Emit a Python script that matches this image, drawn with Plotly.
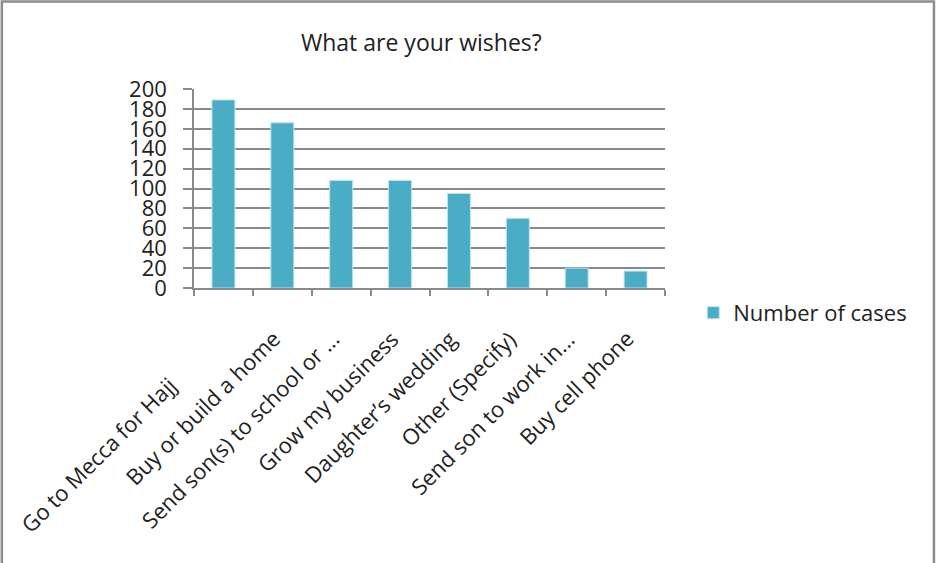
import plotly.graph_objects as go

# Survey responses: what people wish for
categories = [
    "Go to Mecca for Hajj",
    "Buy or build a home",
    "Send son(s) to school or ...",
    "Grow my business",
    "Daughter\u2019s wedding",
    "Other (Specify)",
    "Send son to work in...",
    "Buy cell phone",
]
cases = [189, 166, 108, 108, 95, 70, 20, 17]
y_ticks = [0, 20, 40, 60, 80, 100, 120, 140, 160, 180, 200]

FONT = "Open Sans"
TEXT = "#222222"
BAR = "#4BACC6"
GRID = "#8a8a8a"

# the first category label sits further down its diagonal than the others
label_offsets = [(-45, -46)] + [(0, 0)] * (len(categories) - 1)

fig = go.Figure()
fig.add_trace(go.Bar(
    x=categories,
    y=cases,
    name="Number of cases",
    marker=dict(color=BAR, line=dict(color="#bfe3ec", width=1)),
    showlegend=True,
))

# rotated category labels, drawn as annotations so each can be placed
label_annotations = []
for i, (cat, (dx, dy)) in enumerate(zip(categories, label_offsets)):
    label_annotations.append(dict(
        text=cat, x=i, xref="x", y=-0.165, yref="paper",
        xanchor="right", yanchor="top", textangle=-45,
        xshift=7 + dx, yshift=dy, showarrow=False,
        font=dict(size=22, family=FONT, color=TEXT),
    ))

fig.update_layout(
    width=936,
    height=563,
    margin=dict(l=194, r=271, t=89, b=275),
    paper_bgcolor="white",
    plot_bgcolor="white",
    bargap=0.61,
    font=dict(family=FONT, color=TEXT),
    showlegend=True,
    legend=dict(
        x=1.06, y=-0.125, xanchor="left", yanchor="middle",
        font=dict(size=22, family=FONT, color=TEXT),
        bgcolor="rgba(0,0,0,0)",
    ),
    xaxis=dict(
        type="category",
        categoryorder="array", categoryarray=categories,
        range=[-0.5, len(categories) - 0.5],
        showticklabels=False,
        showline=True, linecolor=GRID, linewidth=1.5,
        ticks="outside", ticklen=6, tickcolor=GRID, tickwidth=1.5,
        tickson="boundaries",
        showgrid=False,
        automargin=False,
    ),
    yaxis=dict(
        range=[0, 200],
        tickvals=y_ticks,
        tickfont=dict(size=22, family=FONT, color=TEXT),
        ticklabelstandoff=12,
        showline=True, linecolor=GRID, linewidth=1.5,
        ticks="outside", ticklen=9, tickcolor=GRID, tickwidth=1.5,
        showgrid=True, gridcolor=GRID, gridwidth=1.5,
        zeroline=False,
        automargin=False,
    ),
    annotations=[dict(
        text="What are your wishes?",
        xref="paper", yref="paper", x=0.483, y=1.236,
        xanchor="center", yanchor="middle", showarrow=False,
        font=dict(size=23, family=FONT, color=TEXT),
    )] + label_annotations,
    shapes=[dict(
        type="rect", xref="paper", yref="paper",
        x0=-0.408, x1=1.571, y0=-1.42, y1=1.44,
        line=dict(color="#8c8c8c", width=2.5),
        fillcolor="rgba(0,0,0,0)",
        layer="below",
    )],
)

fig.write_html("out.html")
